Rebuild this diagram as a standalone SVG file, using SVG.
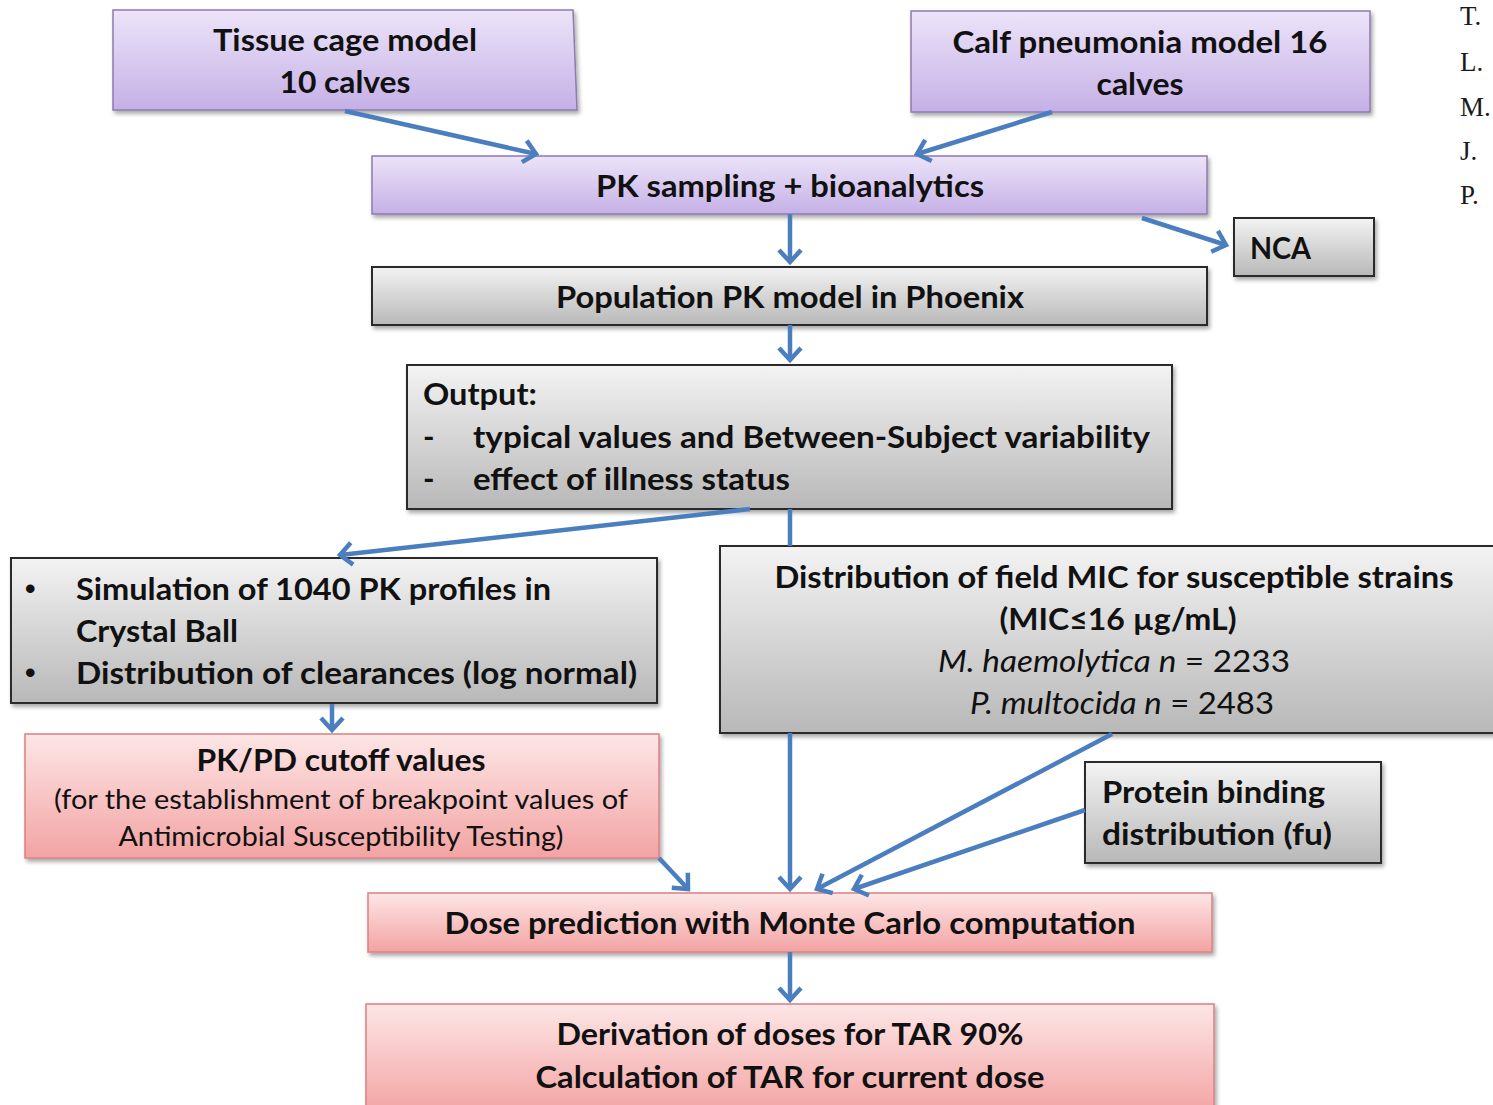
<svg xmlns="http://www.w3.org/2000/svg" width="1493" height="1105" viewBox="0 0 1493 1105">
<defs>
<linearGradient id="gP" x1="0" y1="0" x2="0" y2="1"><stop offset="0" stop-color="#ece4f9"/><stop offset="1" stop-color="#c5b0e6"/></linearGradient>
<linearGradient id="gG" x1="0" y1="0" x2="0" y2="1"><stop offset="0" stop-color="#f3f3f3"/><stop offset="1" stop-color="#b8b8b8"/></linearGradient>
<linearGradient id="gR" x1="0" y1="0" x2="0" y2="1"><stop offset="0" stop-color="#fde6e6"/><stop offset="1" stop-color="#f3a3a3"/></linearGradient>
<filter id="sh" x="-5%" y="-5%" width="110%" height="120%"><feDropShadow dx="2" dy="3" stdDeviation="2" flood-color="#000" flood-opacity="0.35"/></filter>
<marker id="ar" markerUnits="userSpaceOnUse" markerWidth="32" markerHeight="32" viewBox="-16 -16 32 32" refX="0" refY="0" orient="auto">
<path d="M-12,-11 L0,0 L-12,11" fill="none" stroke="#4a7ebf" stroke-width="4.5" stroke-linejoin="miter"/>
</marker>
<style>
.p{fill:url(#gP);stroke:#8d7bb0;stroke-width:1.5;filter:url(#sh)}
.g{fill:url(#gG);stroke:#2b2b2b;stroke-width:2;filter:url(#sh)}
.r{fill:url(#gR);stroke:#dc8080;stroke-width:1.5;filter:url(#sh)}
.t{font-family:Lato,"Liberation Sans",sans-serif;font-weight:bold;font-size:31px;fill:#111}
.n{font-family:Lato,"Liberation Sans",sans-serif;font-weight:normal;font-size:27px;fill:#111}
.i{font-family:Lato,"Liberation Sans",sans-serif;font-weight:normal;font-size:31px;fill:#111}
.b{font-family:"Liberation Sans",sans-serif;font-weight:bold;font-size:30px;fill:#111}
.c{text-anchor:middle}
.s{font-family:"Liberation Serif",serif;font-size:27px;fill:#1a1a1a}
.k{fill:none;stroke:#4a7ebf;stroke-width:4.5}
</style>
</defs>
<rect width="1493" height="1105" fill="#fff"/>

<g id="n-tissue"><path class="p" d="M113,10 L573,10 L577,110 L113,110 Z"/>
<text class="t c" x="345" y="51" textLength="264" lengthAdjust="spacingAndGlyphs">Tissue cage model</text>
<text class="t c" x="345" y="93" textLength="131" lengthAdjust="spacingAndGlyphs">10 calves</text></g>

<g id="n-calf"><rect class="p" x="911" y="11" width="459" height="101"/>
<text class="t c" x="1140" y="53" textLength="375" lengthAdjust="spacingAndGlyphs">Calf pneumonia model 16</text>
<text class="t c" x="1140" y="95" textLength="87" lengthAdjust="spacingAndGlyphs">calves</text></g>

<g id="n-pk"><rect class="p" x="372" y="156" width="835" height="58"/>
<text class="t c" x="790" y="197" textLength="388" lengthAdjust="spacingAndGlyphs">PK sampling + bioanalytics</text></g>

<g id="n-nca"><rect class="g" x="1234" y="218" width="140" height="58"/>
<text class="t" x="1250" y="259" textLength="61" lengthAdjust="spacingAndGlyphs">NCA</text></g>

<g id="n-pop"><rect class="g" x="372" y="267" width="835" height="58"/>
<text class="t c" x="790" y="308" textLength="468" lengthAdjust="spacingAndGlyphs">Population PK model in Phoenix</text></g>

<g id="n-output"><rect class="g" x="407" y="365" width="765" height="144"/>
<text class="t" x="423" y="405" textLength="114" lengthAdjust="spacingAndGlyphs">Output:</text>
<text class="t" x="423" y="448">-</text>
<text class="t" x="473" y="448" textLength="677" lengthAdjust="spacingAndGlyphs">typical values and Between-Subject variability</text>
<text class="t" x="423" y="490">-</text>
<text class="t" x="473" y="490" textLength="317" lengthAdjust="spacingAndGlyphs">effect of illness status</text></g>

<g id="n-sim"><rect class="g" x="11" y="558" width="646" height="145"/>
<text class="b" x="25" y="599">•</text>
<text class="t" x="76" y="600" textLength="475" lengthAdjust="spacingAndGlyphs">Simulation of 1040 PK profiles in</text>
<text class="t" x="76" y="642" textLength="162" lengthAdjust="spacingAndGlyphs">Crystal Ball</text>
<text class="b" x="25" y="683">•</text>
<text class="t" x="76" y="684" textLength="561" lengthAdjust="spacingAndGlyphs">Distribution of clearances (log normal)</text></g>

<g id="n-mic"><rect class="g" x="720" y="546" width="780" height="187"/>
<text class="t c" x="1114" y="588" textLength="679" lengthAdjust="spacingAndGlyphs">Distribution of field MIC for susceptible strains</text>
<text class="t c" x="1118" y="630" textLength="237" lengthAdjust="spacingAndGlyphs">(MIC≤16 µg/mL)</text>
<text class="i c" x="1114" y="672" textLength="352" lengthAdjust="spacingAndGlyphs"><tspan font-style="italic">M. haemolytica n</tspan> = 2233</text>
<text class="i c" x="1122" y="714" textLength="304" lengthAdjust="spacingAndGlyphs"><tspan font-style="italic">P. multocida n</tspan> = 2483</text></g>

<g id="n-pkpd"><rect class="r" x="25" y="734" width="634" height="124"/>
<text class="t c" x="341" y="771" textLength="289" lengthAdjust="spacingAndGlyphs">PK/PD cutoff values</text>
<text class="n c" x="341" y="809" textLength="574" lengthAdjust="spacingAndGlyphs">(for the establishment of breakpoint values of</text>
<text class="n c" x="341" y="846" textLength="445" lengthAdjust="spacingAndGlyphs">Antimicrobial Susceptibility Testing)</text></g>

<g id="n-protein"><rect class="g" x="1085" y="762" width="296" height="101"/>
<text class="t" x="1102" y="803" textLength="223" lengthAdjust="spacingAndGlyphs">Protein binding</text>
<text class="t" x="1102" y="845" textLength="230" lengthAdjust="spacingAndGlyphs">distribution (fu)</text></g>

<g id="n-dose"><rect class="r" x="368" y="893" width="844" height="59"/>
<text class="t c" x="790" y="934" textLength="691" lengthAdjust="spacingAndGlyphs">Dose prediction with Monte Carlo computation</text></g>

<g id="n-deriv"><rect class="r" x="366" y="1004" width="848" height="110"/>
<text class="t c" x="790" y="1045" textLength="467" lengthAdjust="spacingAndGlyphs">Derivation of doses for TAR 90%</text>
<text class="t c" x="790" y="1088" textLength="509" lengthAdjust="spacingAndGlyphs">Calculation of TAR for current dose</text></g>

<g id="side-text">
<text class="s" x="1460" y="25">T.</text>
<text class="s" x="1460" y="71">L.</text>
<text class="s" x="1460" y="116">M.</text>
<text class="s" x="1460" y="160">J.</text>
<text class="s" x="1460" y="204">P.</text>
</g>

<g id="connectors">
<line class="k" x1="345" y1="111" x2="536" y2="154" marker-end="url(#ar)"/>
<line class="k" x1="1052" y1="112" x2="917" y2="154" marker-end="url(#ar)"/>
<line class="k" x1="1142" y1="218" x2="1226" y2="245" marker-end="url(#ar)"/>
<line class="k" x1="790" y1="214" x2="790" y2="262" marker-end="url(#ar)"/>
<line class="k" x1="790" y1="325" x2="790" y2="360" marker-end="url(#ar)"/>
<line class="k" x1="750" y1="509" x2="340" y2="555" marker-end="url(#ar)"/>
<line class="k" x1="790" y1="509" x2="790" y2="546"/>
<line class="k" x1="790" y1="733" x2="790" y2="889" marker-end="url(#ar)"/>
<line class="k" x1="332" y1="704" x2="332" y2="730" marker-end="url(#ar)"/>
<line class="k" x1="659" y1="858" x2="688" y2="889" marker-end="url(#ar)"/>
<line class="k" x1="1112" y1="734" x2="817" y2="889" marker-end="url(#ar)"/>
<line class="k" x1="1085" y1="810" x2="854" y2="889" marker-end="url(#ar)"/>
<line class="k" x1="790" y1="952" x2="790" y2="1000" marker-end="url(#ar)"/>
</g>
</svg>
